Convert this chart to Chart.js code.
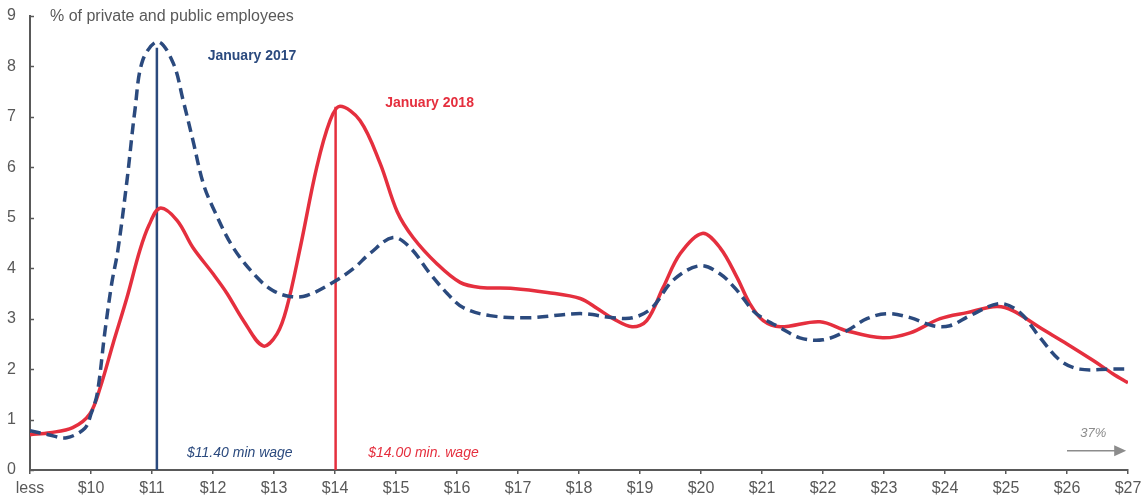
<!DOCTYPE html>
<html>
<head>
<meta charset="utf-8">
<script src="https://cdn.jsdelivr.net/npm/chart.js@4.4.1/dist/chart.umd.min.js"></script>
<style>
  html, body { margin: 0; padding: 0; background: #ffffff; }
  #wrap { width: 1142px; height: 495px; position: relative; }
</style>
</head>
<body>
<div id="wrap"><canvas id="chart" width="1142" height="495"></canvas></div>
<script>
// Hourly wage axis: "less" marks the bottom bin, then whole dollars
const tickLabels = ['less', '$10', '$11', '$12', '$13', '$14', '$15', '$16', '$17',
  '$18', '$19', '$20', '$21', '$22', '$23', '$24', '$25', '$26', '$27'];

// January 2017 distribution (% of employees by hourly wage)
const wage2017 = [9.0, 9.3, 9.6, 9.9, 10.0, 10.1, 10.23, 10.34, 10.44, 10.59, 10.72, 10.85,
  11.1, 11.35, 11.51, 11.67, 11.84, 12.0, 12.33, 12.72, 12.98, 13.26, 13.54, 13.97, 14.3,
  14.57, 14.95, 15.23, 15.56, 15.84, 16.1, 16.54, 17.2, 18.02, 18.56, 18.89, 19.2, 19.54,
  19.98, 20.31, 20.59, 20.85, 21.0, 21.3, 21.62, 22.0, 22.39, 22.72, 23.05, 23.43, 23.8,
  24.08, 24.41, 24.9, 25.23, 25.56, 25.89, 26.21, 26.7, 27.0];
const share2017 = [0.78, 0.7, 0.64, 0.83, 1.11, 1.5, 2.76, 3.7, 4.35, 5.74, 7.13, 8.13,
  8.49, 8.06, 7.33, 6.54, 5.68, 5.2, 4.41, 3.82, 3.56, 3.44, 3.46, 3.72, 3.99,
  4.29, 4.61, 4.41, 3.89, 3.5, 3.22, 3.06, 3.02, 3.1, 3.02, 3.02, 3.22, 3.76,
  4.05, 3.89, 3.56, 3.16, 3.02, 2.82, 2.62, 2.58, 2.76, 3.0, 3.1, 3.02, 2.86,
  2.86, 3.06, 3.3, 3.12, 2.62, 2.17, 2.0, 2.0, 2.0];

// January 2018 distribution
const wage2018 = [9.0, 9.33, 9.7, 9.98, 10.15, 10.36, 10.59, 10.8, 10.95, 11.13, 11.41,
  11.67, 12.0, 12.23, 12.5, 12.82, 13.05, 13.21, 13.43, 13.7, 13.92, 14.08, 14.41, 14.74,
  15.02, 15.28, 15.67, 16.05, 16.38, 16.92, 17.48, 18.02, 18.3, 18.56, 18.87, 19.11, 19.38,
  19.66, 20.02, 20.31, 20.59, 20.8, 21.02, 21.3, 21.95, 22.39, 22.98, 23.43, 23.92, 24.36,
  24.85, 25.11, 25.56, 26.0, 26.43, 26.75, 27.0];
const share2018 = [0.7, 0.74, 0.84, 1.11, 1.63, 2.5, 3.42, 4.35, 4.85, 5.19, 4.95,
  4.41, 3.89, 3.5, 2.96, 2.46, 2.7, 3.22, 4.41, 6.0, 6.93, 7.21, 6.93, 6.08,
  5.12, 4.61, 4.09, 3.72, 3.62, 3.6, 3.52, 3.4, 3.2, 3.0, 2.84, 2.96, 3.62,
  4.29, 4.69, 4.41, 3.82, 3.3, 2.96, 2.84, 2.94, 2.76, 2.62, 2.72, 3.0, 3.12,
  3.24, 3.16, 2.82, 2.5, 2.17, 1.91, 1.73];

// Minimum-wage marker lines: wage position and height
const minWage2017Line = { wage: 11.08, top: 8.37 };
const minWage2018Line = { wage: 14.01, top: 7.2 };

const BLUE = '#2b4a7e';
const RED = '#e52f3e';
const GREY = '#595959';
const FONT = '"Liberation Sans", Arial, sans-serif';

const toPoints = (xs, ys) => xs.map((x, i) => ({ x, y: ys[i] }));

// Text annotations and the arrow, positioned in data space
const annotations = {
  id: 'annotations',
  afterDatasetsDraw(chart) {
    const { ctx, scales: { x, y } } = chart;
    ctx.save();
    ctx.textAlign = 'center';
    ctx.textBaseline = 'middle';

    ctx.font = 'bold 14px ' + FONT;
    ctx.fillStyle = BLUE;
    ctx.fillText('January 2017', x.getPixelForValue(12.64), y.getPixelForValue(8.2));
    ctx.fillStyle = RED;
    ctx.fillText('January 2018', x.getPixelForValue(15.55), y.getPixelForValue(7.27));

    ctx.font = 'italic 14px ' + FONT;
    ctx.fillStyle = BLUE;
    ctx.fillText('$11.40 min wage', x.getPixelForValue(12.44), y.getPixelForValue(0.34));
    ctx.fillStyle = RED;
    ctx.fillText('$14.00 min. wage', x.getPixelForValue(15.45), y.getPixelForValue(0.34));

    ctx.font = 'italic 13px ' + FONT;
    ctx.fillStyle = '#8c8c8c';
    ctx.fillText('37%', x.getPixelForValue(26.43), y.getPixelForValue(0.73));

    // arrow pointing past the last bin
    const ay = y.getPixelForValue(0.38);
    const ax0 = x.getPixelForValue(26.0);
    const ax1 = x.getPixelForValue(26.97);
    ctx.strokeStyle = '#8c8c8c';
    ctx.fillStyle = '#8c8c8c';
    ctx.lineWidth = 1.5;
    ctx.beginPath();
    ctx.moveTo(ax0, ay);
    ctx.lineTo(ax1 - 10, ay);
    ctx.stroke();
    ctx.beginPath();
    ctx.moveTo(ax1, ay);
    ctx.lineTo(ax1 - 12, ay - 5.5);
    ctx.lineTo(ax1 - 12, ay + 5.5);
    ctx.closePath();
    ctx.fill();

    // y-axis title
    ctx.font = '16px ' + FONT;
    ctx.fillStyle = GREY;
    ctx.textAlign = 'left';
    ctx.fillText('% of private and public employees', x.getPixelForValue(9) + 20, y.getPixelForValue(9) + 1);

    // short inward ticks on the y axis
    ctx.strokeStyle = GREY;
    ctx.lineWidth = 1.5;
    y.ticks.forEach(t => {
      const py = Math.round(y.getPixelForValue(t.value)) + 0.5;
      ctx.beginPath();
      ctx.moveTo(x.left, py);
      ctx.lineTo(x.left + 4, py);
      ctx.stroke();
    });
    ctx.restore();
  }
};

new Chart(document.getElementById('chart'), {
  type: 'line',
  data: {
    datasets: [
      {
        label: 'January 2018',
        data: toPoints(wage2018, share2018),
        borderColor: RED,
        borderWidth: 3.5,
        pointRadius: 0,
        tension: 0.35,
        fill: false,
        order: 2
      },
      {
        label: 'January 2017',
        data: toPoints(wage2017, share2017),
        borderColor: BLUE,
        borderWidth: 3.5,
        borderDash: [11, 6],
        pointRadius: 0,
        tension: 0.35,
        fill: false,
        order: 1
      },
      {
        label: '$11.40 min wage',
        data: [{ x: minWage2017Line.wage, y: 0 }, { x: minWage2017Line.wage, y: minWage2017Line.top }],
        borderColor: BLUE,
        borderWidth: 2.5,
        pointRadius: 0,
        tension: 0,
        order: 3
      },
      {
        label: '$14.00 min. wage',
        data: [{ x: minWage2018Line.wage, y: 0 }, { x: minWage2018Line.wage, y: minWage2018Line.top }],
        borderColor: RED,
        borderWidth: 2.5,
        pointRadius: 0,
        tension: 0,
        order: 3
      }
    ]
  },
  options: {
    responsive: false,
    animation: false,
    layout: { padding: { top: 16, right: 14, left: 0, bottom: 0 } },
    plugins: { legend: { display: false }, tooltip: { enabled: false }, title: { display: false } },
    scales: {
      x: {
        type: 'linear',
        min: 9,
        max: 27,
        afterFit(scale) { scale.height = 25; },
        grid: { display: true, drawOnChartArea: false, drawTicks: true, tickLength: 4, color: GREY, lineWidth: 1.5 },
        border: { display: true, color: GREY, width: 2 },
        ticks: {
          stepSize: 1,
          autoSkip: false,
          maxRotation: 0,
          padding: 0,
          color: GREY,
          font: { family: FONT, size: 16, lineHeight: '29px' },
          callback: (v) => tickLabels[Math.round(v) - 9]
        }
      },
      y: {
        min: 0,
        max: 9,
        afterFit(scale) { scale.width = 30; },
        grid: { display: true, drawOnChartArea: false, drawTicks: true, tickLength: 14, color: 'rgba(0,0,0,0)' },
        border: { display: true, color: GREY, width: 2 },
        ticks: {
          stepSize: 1,
          padding: 0,
          color: GREY,
          font: { family: FONT, size: 16 }
        }
      }
    }
  },
  plugins: [annotations]
});
</script>
</body>
</html>
